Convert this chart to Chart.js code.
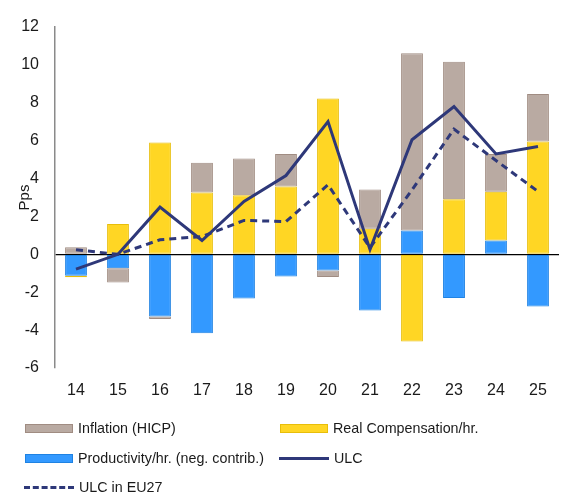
<!DOCTYPE html>
<html>
<head>
<meta charset="utf-8">
<script src="https://cdn.jsdelivr.net/npm/chart.js@4"></script>
<style>
  html, body { margin: 0; padding: 0; background: #fff; }
  #wrap { position: relative; width: 576px; height: 497px; font-family: "Liberation Sans", Arial, sans-serif; }
  #c { position: absolute; left: 0; top: 0; }
  .lg { position: absolute; display: flex; align-items: center; font-size: 14.3px; color: #1a1a1a; white-space: nowrap; height: 20px; }
  .sw { width: 48px; height: 9px; margin-right: 5px; box-sizing: border-box; }
  .ln { width: 50px; height: 0; margin-right: 5px; }
</style>
</head>
<body>
<div id="wrap">
  <canvas id="c" width="576" height="497"></canvas>
  <div id="legend"></div>
</div>
<script>
// ---- data ----
const categories = ['14','15','16','17','18','19','20','21','22','23','24','25'];
const inflation    = [0.38, -0.76, -0.14, 1.57, 1.94, 1.71, -0.35, 2.07, 9.36, 7.25, 2.00, 2.50];
const realComp     = [-0.08, 1.60, 5.90, 3.26, 3.12, 3.58, 8.23, 1.35, -4.60, 2.91, 2.57, 5.96];
const productivity = [-1.13, -0.73, -3.28, -4.16, -2.33, -1.17, -0.85, -2.97, 1.26, -2.31, 0.73, -2.76];
const ulc          = [-0.78, 0.00, 2.49, 0.73, 2.79, 4.16, 7.01, 0.25, 6.05, 7.80, 5.30, 5.69];
const ulcEU27      = [0.24, 0.00, 0.77, 0.94, 1.79, 1.73, 3.67, 0.35, 3.40, 6.61, 4.95, 3.32];
const yTickMin = -6, yTickMax = 12, yTickStep = 2;
const yTitle = 'Pps';
const labels = {
  inflation: 'Inflation (HICP)',
  realComp: 'Real Compensation/hr.',
  productivity: 'Productivity/hr. (neg. contrib.)',
  ulc: 'ULC',
  ulcEU27: 'ULC in EU27'
};

// ---- styles ----
const C = {
  grayFill: '#B9AAA2', grayBorder: '#A08C82',
  yellowFill: '#FFD624', yellowBorder: '#E8BE0A',
  blueFill: '#3399FF', blueBorder: '#1F82E2',
  navy: '#2E3879',
  text: '#1a1a1a'
};
const FONT = '"Liberation Sans", Arial, sans-serif';

const yTitlePlugin = {
  id: 'yTitle',
  afterDraw(chart) {
    const ctx = chart.ctx;
    const y = chart.scales.y.getPixelForValue(3);
    ctx.save();
    ctx.translate(25, y);
    ctx.rotate(-Math.PI / 2);
    ctx.font = '15px ' + FONT;
    ctx.fillStyle = C.text;
    ctx.textAlign = 'center';
    ctx.textBaseline = 'middle';
    ctx.fillText(yTitle, 0, 0);
    ctx.restore();
  }
};

new Chart(document.getElementById('c'), {
  data: {
    labels: categories,
    datasets: [
      { type: 'bar', label: labels.inflation, data: inflation, order: 3, stack: 'bars',
        backgroundColor: C.grayFill, borderColor: C.grayBorder, borderWidth: 1, borderSkipped: false },
      { type: 'bar', label: labels.realComp, data: realComp, order: 2, stack: 'bars',
        backgroundColor: C.yellowFill, borderColor: C.yellowBorder, borderWidth: 1, borderSkipped: false },
      { type: 'bar', label: labels.productivity, data: productivity, order: 1, stack: 'bars',
        backgroundColor: C.blueFill, borderColor: C.blueBorder, borderWidth: 1, borderSkipped: false },
      { type: 'line', label: labels.ulc, data: ulc, order: 0, stack: 'ulc',
        borderColor: C.navy, borderWidth: 3, pointRadius: 0, tension: 0, fill: false },
      { type: 'line', label: labels.ulcEU27, data: ulcEU27, order: 0, stack: 'eu',
        borderColor: C.navy, borderWidth: 3, borderDash: [7, 5], pointRadius: 0, tension: 0, fill: false }
    ]
  },
  options: {
    responsive: false,
    animation: false,
    events: [],
    layout: { padding: { left: 0, right: 17, top: 27, bottom: 89 } },
    datasets: { bar: { categoryPercentage: 1, barPercentage: 0.52 } },
    plugins: { legend: { display: false }, tooltip: { enabled: false } },
    scales: {
      x: {
        stacked: true,
        grid: { display: false },
        border: { display: false },
        ticks: { font: { size: 16, family: FONT }, color: C.text, padding: 5, maxRotation: 0 },
        afterFit(s) { s.height = 40; }
      },
      y: {
        stacked: true,
        min: yTickMin, max: yTickMax,
        ticks: { stepSize: yTickStep, font: { size: 16, family: FONT }, color: C.text, padding: 16 },
        grid: {
          drawTicks: false,
          color: (ctx) => (ctx.tick && ctx.tick.value === 0 ? '#000' : 'rgba(0,0,0,0)'),
          lineWidth: 1.2
        },
        border: { color: '#8a8a8a', width: 1.5 },
        afterFit(s) { s.width = 55; }
      }
    }
  },
  plugins: [yTitlePlugin]
});

// ---- HTML legend (two-column grid like the reference) ----
const legendItems = [
  { text: labels.inflation, kind: 'box', fill: C.grayFill, border: C.grayBorder, x: 25, y: 418 },
  { text: labels.realComp, kind: 'box', fill: C.yellowFill, border: C.yellowBorder, x: 280, y: 418 },
  { text: labels.productivity, kind: 'box', fill: C.blueFill, border: C.blueBorder, x: 25, y: 448 },
  { text: labels.ulc, kind: 'line', color: C.navy, dash: false, x: 279, y: 448 },
  { text: labels.ulcEU27, kind: 'line', color: C.navy, dash: true, x: 24, y: 477 }
];
const lg = document.getElementById('legend');
legendItems.forEach(it => {
  const d = document.createElement('div');
  d.className = 'lg';
  d.style.left = it.x + 'px';
  d.style.top = it.y + 'px';
  const s = document.createElement('span');
  if (it.kind === 'box') {
    s.className = 'sw';
    s.style.background = it.fill;
    s.style.border = '1px solid ' + it.border;
  } else {
    s.className = 'ln';
    s.style.borderTop = '3px ' + (it.dash ? 'dashed ' : 'solid ') + it.color;
  }
  d.appendChild(s);
  const t = document.createElement('span');
  t.textContent = it.text;
  d.appendChild(t);
  lg.appendChild(d);
});
</script>
</body>
</html>
